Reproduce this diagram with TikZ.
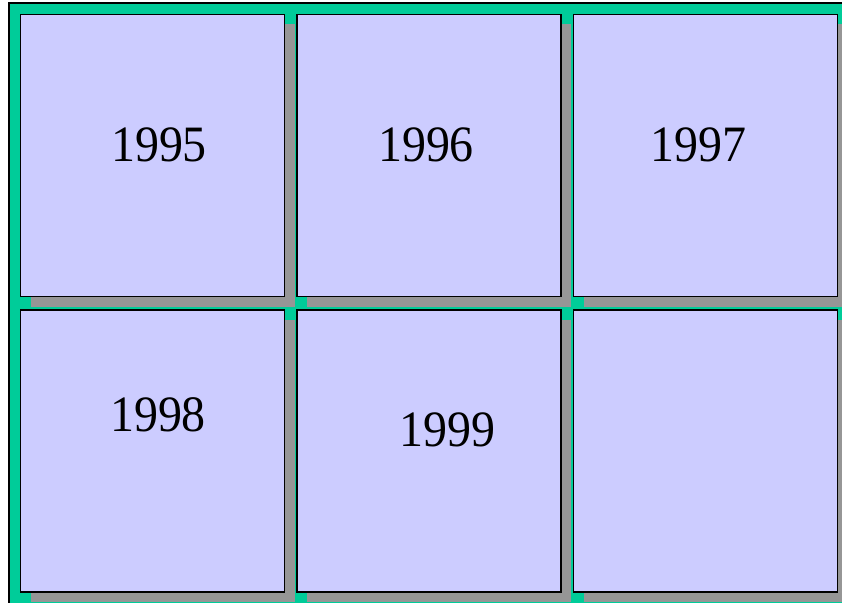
\documentclass[tikz,border=0pt]{standalone}
\usepackage{fontspec}
\setmainfont{Liberation Serif}
\usepackage{graphicx}
\usepackage{tikz}
\usetikzlibrary{shadows}

\definecolor{framegreen}{RGB}{0,204,153}
\definecolor{boxfill}{RGB}{204,204,255}
\definecolor{shadowgray}{RGB}{150,150,150}

\newcommand{\yeartext}[1]{\scalebox{0.94}[1]{#1}}

\tikzset{
  yearbox/.style={draw=black, line width=1.4pt, fill=boxfill,
    minimum width=264pt, minimum height=282pt, inner sep=0pt,
    general shadow={fill=shadowgray, shadow xshift=10pt, shadow yshift=-10pt}},
  yearlabel/.style={inner sep=0pt, font=\fontsize{51}{51}\selectfont}
}

\begin{document}
\begin{tikzpicture}[x=1pt, y=-1pt]
  \useasboundingbox (0,0) rectangle (842,602);
  % Frame
  \draw[black, line width=1.4pt, fill=framegreen] (9,3) rectangle (860,620);

  % Top row
  \node[yearbox] (box1) at (152.5,155.5) {};
  \node[yearbox] (box2) at (429,155.5) {};
  \node[yearbox] (box3) at (705.5,155.5) {};
  % Bottom row
  \node[yearbox] (box4) at (152.5,451) {};
  \node[yearbox] (box5) at (429,451) {};
  \node[yearbox] (box6) at (705.5,451) {};

  % Years
  \node[yearlabel] (y1995) at (159,144.5) {\yeartext{1995}};
  \node[yearlabel] (y1996) at (426,144.5) {\yeartext{1996}};
  \node[yearlabel] (y1997) at (698.5,144.5) {\yeartext{1997}};
  \node[yearlabel] (y1998) at (158,415) {\yeartext{1998}};
  \node[yearlabel] (y1999) at (447.5,429.5) {\yeartext{1999}};
\end{tikzpicture}
\end{document}
